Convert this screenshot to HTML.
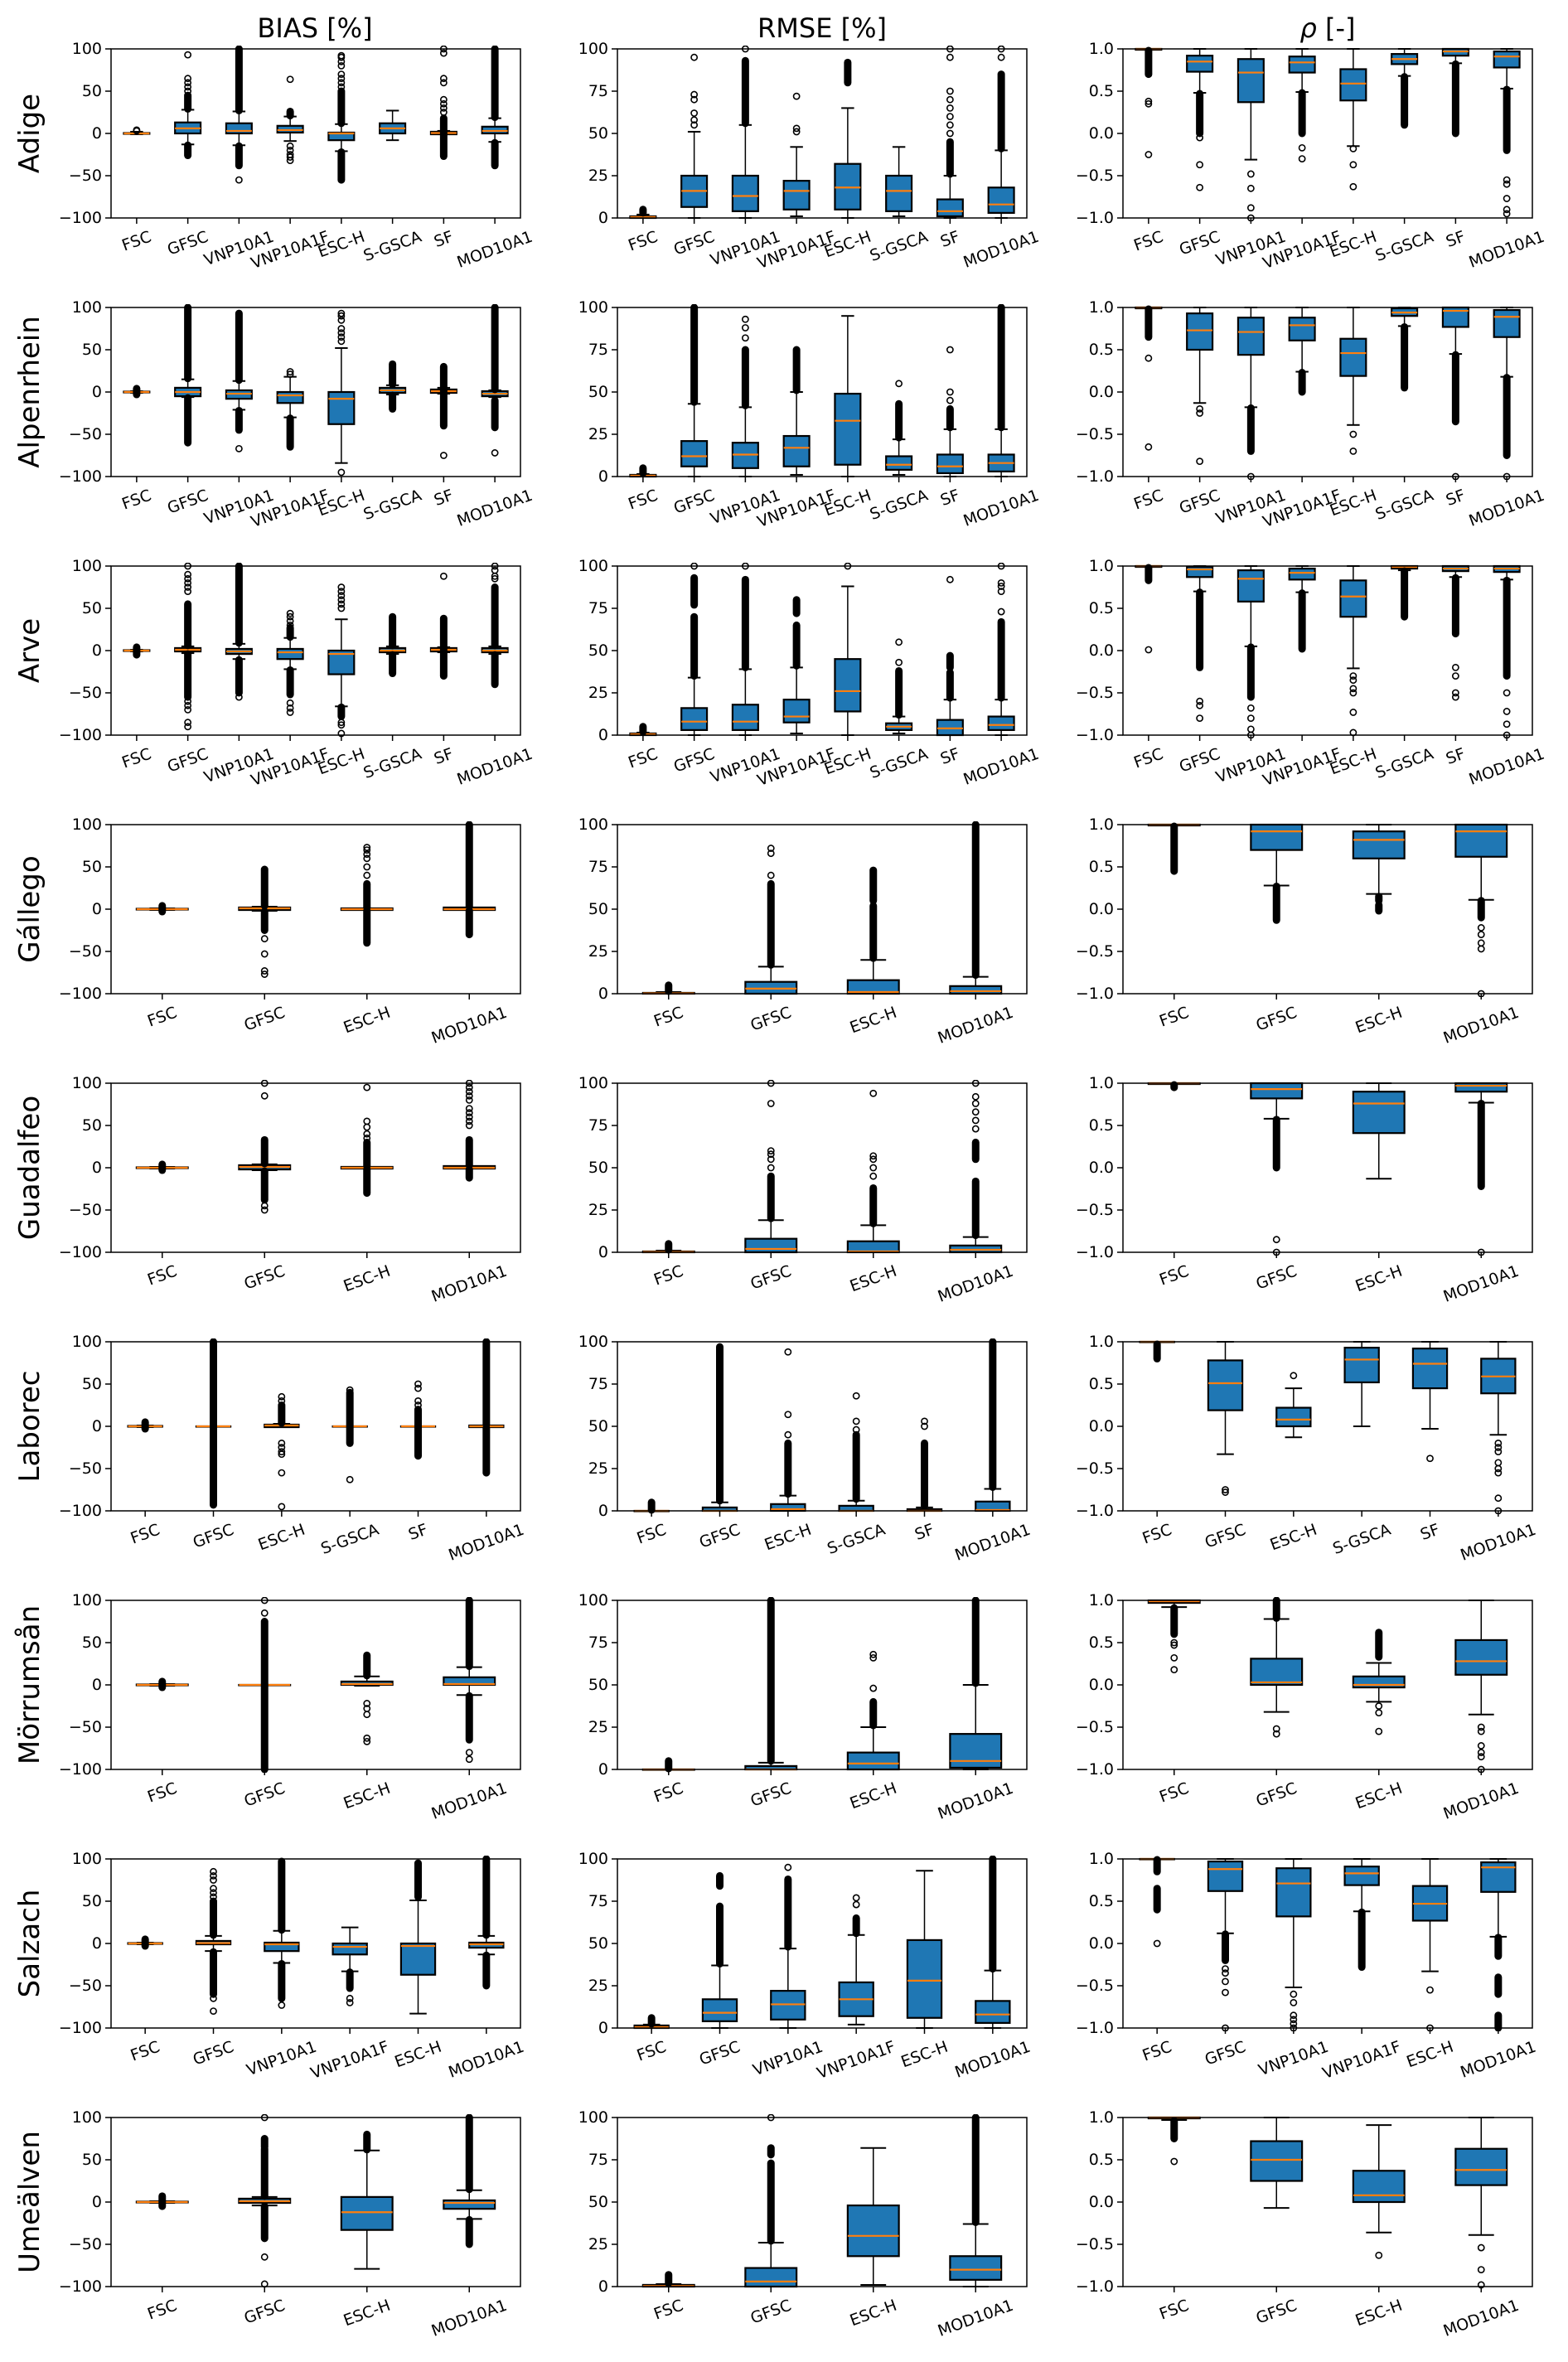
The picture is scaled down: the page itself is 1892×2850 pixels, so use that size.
<!DOCTYPE html>
<html><head><meta charset="utf-8">
<style>
html,body{margin:0;padding:0;background:#fff;}
svg text{font-family:"DejaVu Sans","Liberation Sans",sans-serif;fill:#000;}
</style></head>
<body>
<svg id="fig" width="1892" height="2845" viewBox="0 0 1892 2845" xmlns="http://www.w3.org/2000/svg">
<rect width="1892" height="2845" fill="#fff"/>
<text x="380" y="45" font-size="32" text-anchor="middle">BIAS [%]</text>
<text x="992" y="45" font-size="32" text-anchor="middle">RMSE [%]</text>
<text x="1602" y="45" font-size="32" text-anchor="middle"><tspan font-style="italic">ρ</tspan> [-]</text>
</svg>
<script>
// categories
const cats8 = ["FSC","GFSC","VNP10A1","VNP10A1F","ESC-H","S-GSCA","SF","MOD10A1"];
const cats4 = ["FSC","GFSC","ESC-H","MOD10A1"];
const catsLab = ["FSC","GFSC","ESC-H","S-GSCA","SF","MOD10A1"];
const catsSal = ["FSC","GFSC","VNP10A1","VNP10A1F","ESC-H","MOD10A1"];
const basins = ["Adige","Alpenrhein","Arve","Gállego","Guadalfeo","Laborec","Mörrumsån","Salzach","Umeälven"];
const biasTicks = [-100,-50,0,50,100];
const rmseTicks = [0,25,50,75,100];
const rhoTicks = [-1.0,-0.5,0.0,0.5,1.0];
const rhoTickLabels = ["−1.0","−0.5","0.0","0.5","1.0"];
const biasTickLabels = ["−100","−50","0","50","100"];
const rmseTickLabels = ["0","25","50","75","100"];

// stats per box: [whisker-low, q1, median, q3, whisker-high]; outliers: numbers or [from,to] dense runs
const adigeBias = [[-1,-0.5,0,0.5,2],[-13,0,6,13,28],[-14,0,3,12,26],[-9,1,4,9,20],[-21,-8,0,1,11],[-8,0,6,12,27],[-1,-1,0.5,2,3],[-10,0,3,8,18]];
const adigeBiasOut = [[3,4],[[29,45],50,55,60,65,93,[-14,-26]],[[27,100],[-15,-38],-55],[[21,26],64,-15,-20,-25,-28,-32],[[12,50],55,60,65,70,80,85,90,92,[-22,-55]],[],[[-27,18],25,30,35,40,60,65,95,100],[[19,100],[-11,-38]]];
const adigeRmse = [[0,0,0.5,1,2],[0,6.5,16,25,51],[0,4,13,25,55],[1,5,16,22,42],[0,5,18,32,65],[1,4,16,25,42],[0,1,4,11,25],[0,3,8,18,40]];
const adigeRmseOut = [[[3,5]],[55,58,62,70,73,95],[[56,93],100],[51,53,72],[[80,92]],[],[[26,45],50,55,60,65,70,75,95,100],[[41,85],95,100]];
const adigeRho = [[0.99,0.99,1,1,1],[0.48,0.73,0.85,0.92,1],[-0.31,0.37,0.72,0.88,1],[0.49,0.72,0.84,0.91,1],[-0.15,0.39,0.59,0.76,1],[0.68,0.82,0.88,0.94,1],[0.83,0.92,0.97,1,1],[0.53,0.78,0.91,0.97,1]];
const adigeRhoOut = [[[0.7,0.98],0.35,0.38,-0.25],[[0,0.47],-0.05,-0.37,-0.64],[-0.48,-0.65,-0.88,-1],[[0,0.48],-0.17,-0.3],[-0.18,-0.37,-0.63],[[0.1,0.67]],[[0,0.82]],[[-0.2,0.52],-0.55,-0.6,-0.77,-0.9,-0.95]];

const alpBias = [[-1,-0.5,0,0.5,1],[-6,-5,0,5,15],[-21,-8,-2,2,13],[-30,-13,-4,0,18],[-84,-38,-8,0,52],[-3,-1,2,5,8],[-2,-1,1,3,5],[-6,-5,-2,1,2]];
const alpBiasOut = [[[-3,4]],[[16,100],[-7,-60]],[[14,93],[-22,-45],-67],[21,24,[-31,-65]],[60,65,70,75,85,90,93,-95],[[9,33],[-4,-20]],[[-40,30],-75],[[3,100],[-10,-42],-72]];
const alpRmse = [[0,0,0.5,1,1.5],[0,6,12,21,43],[0,5,13,20,41],[1,6,17,24,50],[0,7,33,49,95],[1,4,7,12,22],[0,2,6,13,28],[0,3,8,13,28]];
const alpRmseOut = [[[2,5]],[[44,100]],[[42,75],82,88,93],[[51,75]],[],[[23,43],55],[[29,40],45,50,75],[[29,100]]];
const alpRho = [[0.99,0.99,1,1,1],[-0.13,0.5,0.73,0.93,1],[-0.18,0.44,0.71,0.88,1],[0.24,0.61,0.79,0.88,1],[-0.39,0.19,0.46,0.63,1],[0.78,0.9,0.94,0.99,1],[0.45,0.77,0.96,1,1],[0.18,0.65,0.89,0.97,1]];
const alpRhoOut = [[[0.65,0.98],0.4,-0.65],[-0.2,-0.25,-0.82],[[-0.7,-0.19],-1],[[0,0.23]],[-0.5,-0.7],[[0.05,0.77]],[[-0.35,0.44],-1],[[-0.75,0.17],-1]];

const arveBias = [[-1,-0.5,0,0.5,1],[-3,-1,1,3,5],[-10,-4,-1,2,8],[-22,-10,-2,2,15],[-66,-28,-4,0,37],[-4,-2,0,3,5],[-2,-1,1,3,4],[-4,-2,0,3,5]];
const arveBiasOut = [[[-5,4]],[[6,55],70,75,80,85,90,100,[-4,-55],-60,-65,-70,-85,-90],[[9,100],[-11,-50],-55],[[16,27],30,35,40,44,[-23,-52],-62,-68,-73],[50,55,60,65,70,75,[-67,-78],-85,-88,-98],[[6,40],[-5,-27]],[[-30,38],88],[[6,75],85,88,95,100,[-5,-40]]];
const arveRmse = [[0,0,0.5,1,1.5],[0,3,8,16,34],[0,3,8,18,39],[1,7.5,11,21,40],[0,14,26,45,88],[1,3,5,7,11],[0,0,4,9,21],[0,3,6,11,21]];
const arveRmseOut = [[[2,5]],[[35,70],[77,93],100],[[40,92],100],[[41,65],[72,80]],[100],[[12,38],43,55],[[22,37],[40,47],92],[[22,67],73,85,88,90,100]];
const arveRho = [[0.99,0.99,1,1,1],[0.7,0.87,0.96,0.99,1],[0.05,0.58,0.85,0.95,1],[0.69,0.84,0.92,0.97,1],[-0.21,0.4,0.64,0.83,1],[0.95,0.97,0.99,1,1],[0.87,0.94,0.97,1,1],[0.84,0.93,0.97,1,1]];
const arveRhoOut = [[[0.83,0.98],0.01],[[-0.2,0.69],-0.6,-0.65,-0.8],[[-0.55,0.04],-0.68,-0.8,-0.93,-1],[[0.02,0.68]],[-0.3,-0.35,-0.45,-0.5,-0.73,-0.97],[[0.4,0.94]],[[0.2,0.86],-0.2,-0.3,-0.5,-0.55],[[-0.3,0.83],-0.5,-0.72,-0.87,-1]];

const galBias = [[-1,-0.5,0,0.5,1],[-2,-1,1,2,3],[-1,-1,0,1,1],[-1,-1,0,2,2]];
const galBiasOut = [[[-3,4]],[[4,47],[-3,-25],-35,-53,-73,-77],[[2,30],40,50,60,65,70,73,[-2,-40]],[[3,100],[-2,-30]]];
const galRmse = [[0,0,0.2,0.5,1],[0,0,3,7,16],[0,0,1,8,20],[0,0,1.5,4.5,10]];
const galRmseOut = [[[1.5,5]],[[17,65],70,83,86],[[21,52],[55,73]],[[11,100]]];
const galRho = [[0.99,0.99,1,1,1],[0.28,0.7,0.92,1,1],[0.18,0.6,0.82,0.92,1],[0.11,0.62,0.92,1,1]];
const galRhoOut = [[[0.45,0.98]],[[-0.13,0.27]],[[0.1,0.15],[-0.02,0.05]],[[-0.1,0.1],-0.22,-0.3,-0.4,-0.47,-1]];

const guaBias = [[-1,-0.5,0,0.5,1],[-3,-2,1,3,4],[-1,-1,0,1,1],[-1,-1,0,2,2]];
const guaBiasOut = [[[-3,4]],[[5,33],85,100,[-4,-38],-45,-50],[[2,30],35,40,48,55,95,[-2,-30]],[[3,33],50,55,60,65,70,80,85,90,95,100,[-2,-12]]];
const guaRmse = [[0,0,0.2,0.5,1],[0,0,2,8,19],[0,0,0.5,6.5,16],[0,0,1.5,4,9]];
const guaRmseOut = [[[1.5,5]],[[20,45],50,55,58,60,88,100],[[17,38],45,50,55,57,94],[[10,42],[55,65],73,78,83,88,92,100]];
const guaRho = [[0.99,0.99,1,1,1],[0.58,0.82,0.93,1,1],[-0.13,0.41,0.76,0.9,1],[0.77,0.9,0.97,1,1]];
const guaRhoOut = [[[0.95,0.98]],[[0,0.57],-0.85,-1],[],[[-0.22,0.76],-1]];

const labBias = [[-1,-0.5,0,0.5,1],[0,0,0,0,0],[-1,-1,1,2,3],[0,0,0,0,0],[0,0,0,0,0],[-1,-1,0,1,1]];
const labBiasOut = [[[-3,5]],[[-93,100]],[[4,25],30,35,-20,-25,-30,-33,-55,-95],[[-20,40],43,-63],[[-35,20],25,30,45,50],[[2,100],[-2,-55]]];
const labRmse = [[0,0,0,0,0],[0,0,0,2,5],[0,0,1,4,9],[0,0,0,3,6],[0,0,0,1,2],[0,0,0.5,5.5,13]];
const labRmseOut = [[[0.5,5]],[[6,97]],[[10,40],45,57,94],[[7,45],48,53,68],[[3,40],50,53],[[14,100]]];
const labRho = [[1,1,1,1,1],[-0.33,0.19,0.51,0.78,1],[-0.13,0,0.08,0.22,0.45],[0,0.52,0.79,0.93,1],[-0.03,0.45,0.74,0.92,1],[-0.1,0.39,0.59,0.8,1]];
const labRhoOut = [[[0.8,0.97]],[-0.75,-0.78],[0.6],[],[-0.38],[-0.2,-0.25,-0.3,-0.43,-0.5,-0.55,-0.85,-1]];

const morBias = [[-1,-0.5,0,0.5,1],[0,0,0,0,0],[-1,0,1,4,10],[-12,0,1,9,21]];
const morBiasOut = [[[-3,4]],[[-100,75],85,100],[[11,35],-22,-28,-35,-63,-67],[[22,100],[-13,-65],-80,-88]];
const morRmse = [[0,0,0,0,0],[0,0,0,2,4],[0,0,3.5,10,25],[0,1,5,21,50]];
const morRmseOut = [[[0.5,5]],[[5,100]],[[26,40],48,66,68],[[51,100]]];
const morRho = [[0.92,0.97,0.99,1,1],[-0.32,0,0.03,0.31,0.78],[-0.2,-0.03,0,0.1,0.26],[-0.35,0.12,0.28,0.53,1]];
const morRhoOut = [[[0.6,0.91],0.5,0.47,0.32,0.18],[[0.79,1],-0.52,-0.58],[[0.33,0.62],-0.25,-0.33,-0.55],[-0.5,-0.55,-0.72,-0.8,-0.85,-1]];

const salBias = [[-1,-0.5,0,0.5,1],[-9,-1,0.5,3,9],[-23,-9,-1,1,15],[-33,-13,-4,0,19],[-83,-37,-3,0,51],[-13,-5,-1,1,9]];
const salBiasOut = [[[-3,5]],[[10,50],55,60,65,75,80,85,[-10,-60],-65,-80],[[16,97],[-24,-65],-73],[[-34,-53],-65,-70],[[55,95]],[[10,100],[-14,-50]]];
const salRmse = [[0,0,0.5,1.5,2],[0,4,9,17,37],[0,5,14,22,47],[2,7,17,27,55],[0,6,28,52,93],[0,3,8,16,34]];
const salRmseOut = [[[2.5,6]],[[38,72],[84,90]],[[48,88],95],[[56,65],73,77],[],[[35,100]]];
const salRho = [[1,1,1,1,1],[0.12,0.62,0.88,0.97,1],[-0.52,0.32,0.71,0.89,1],[0.38,0.69,0.83,0.91,1],[-0.33,0.27,0.47,0.68,1],[0.08,0.61,0.9,0.96,1]];
const salRhoOut = [[[0.85,0.99],[0.4,0.65],0],[[-0.2,0.11],-0.3,-0.35,-0.45,-0.58,-1],[-0.6,-0.7,-0.85,-0.9,-0.95,-1],[[-0.28,0.37]],[-0.55,-1],[[-0.15,0.07],[-0.6,-0.4],[-1,-0.85]]];

const umeBias = [[-1,-0.5,0,0.5,1],[-4,-1,1,4,6],[-79,-33,-12,6,61],[-20,-8,-1,2,14]];
const umeBiasOut = [[[-5,7]],[[7,63],[65,75],100,[-5,-43],-65,-97],[[62,80]],[[15,100],[-21,-50]]];
const umeRmse = [[0,0,0.3,1,1.5],[0,0,3,11,26],[1,18,30,48,82],[0,4,10,18,37]];
const umeRmseOut = [[[2,7]],[[27,73],[78,82],100],[],[[38,100]]];
const umeRho = [[0.97,0.99,1,1,1],[-0.07,0.25,0.5,0.72,1],[-0.36,0,0.08,0.37,0.91],[-0.39,0.2,0.38,0.63,1]];
const umeRhoOut = [[[0.75,0.96],0.48],[],[-0.63],[-0.54,-0.8,-0.98]];

const NS = "http://www.w3.org/2000/svg";
const svg = document.getElementById("fig");
const colX = [134, 745, 1355];
const AW = 494, AH = 204, TOP0 = 59, PITCH = 312;

const rowCats = [cats8,cats8,cats8,cats4,cats4,catsLab,cats4,catsSal,cats4];
const rowPanels = [
 [[adigeBias,adigeBiasOut],[adigeRmse,adigeRmseOut],[adigeRho,adigeRhoOut]],
 [[alpBias,alpBiasOut],[alpRmse,alpRmseOut],[alpRho,alpRhoOut]],
 [[arveBias,arveBiasOut],[arveRmse,arveRmseOut],[arveRho,arveRhoOut]],
 [[galBias,galBiasOut],[galRmse,galRmseOut],[galRho,galRhoOut]],
 [[guaBias,guaBiasOut],[guaRmse,guaRmseOut],[guaRho,guaRhoOut]],
 [[labBias,labBiasOut],[labRmse,labRmseOut],[labRho,labRhoOut]],
 [[morBias,morBiasOut],[morRmse,morRmseOut],[morRho,morRhoOut]],
 [[salBias,salBiasOut],[salRmse,salRmseOut],[salRho,salRhoOut]],
 [[umeBias,umeBiasOut],[umeRmse,umeRmseOut],[umeRho,umeRhoOut]]
];
const metricNames = ["bias","rmse","rho"];
const domains = [[-100,100],[0,100],[-1,1]];
const ticksByMetric = [biasTicks, rmseTicks, rhoTicks];
const tickLabelsByMetric = [biasTickLabels, rmseTickLabels, rhoTickLabels];

function mk(tag, attrs, parent){
  const e = document.createElementNS(NS, tag);
  for (const k in attrs) e.setAttribute(k, attrs[k]);
  (parent||svg).appendChild(e);
  return e;
}
function slug(s){return s.toLowerCase().replace(/[^a-z0-9]+/g,'-');}

for (let r=0; r<9; r++){
  const top = TOP0 + PITCH*r;
  const lab = mk("text",{x:36,y:top+AH/2,"font-size":34,"text-anchor":"middle","dominant-baseline":"central",transform:`rotate(-90 36 ${top+AH/2})`});
  lab.textContent = basins[r];
  
  
  const cats = rowCats[r];
  for (let c=0; c<3; c++){
    const x0 = colX[c];
    const [d0,d1] = domains[c];
    const ys = v => top + AH - (v-d0)/(d1-d0)*AH;
    const n = cats.length;
    const xs = i => x0 + (i+0.5)/n*AW;
    const g = mk("g",{});
    
    
    const cp = mk("clipPath",{id:`cp${r}_${c}`}, g);
    mk("rect",{x:x0,y:top-4,width:AW,height:AH+8},cp);
    // y ticks
    ticksByMetric[c].forEach((t,k)=>{
      const y = ys(t);
      mk("line",{x1:x0-7,x2:x0,y1:y,y2:y,stroke:"#000","stroke-width":1.5},g);
      const tl = mk("text",{x:x0-11,y:y,"font-size":19,"text-anchor":"end","dominant-baseline":"central"},g);
      tl.textContent = tickLabelsByMetric[c][k];
      
      
    });
    const [stats, outs] = rowPanels[r][c];
    const bw = 0.5*AW/n;
    const marks = mk("g",{"clip-path":`url(#cp${r}_${c})`},g);
    for (let i=0;i<n;i++){
      const cx = xs(i);
      const [lo,q1,md,q3,hi] = stats[i];
      const bg = mk("g",{},marks);
      
      
      mk("line",{x1:cx,x2:cx,y1:ys(lo),y2:ys(q1),stroke:"#000","stroke-width":1.5},bg);
      mk("line",{x1:cx,x2:cx,y1:ys(q3),y2:ys(hi),stroke:"#000","stroke-width":1.5},bg);
      mk("line",{x1:cx-bw/4,x2:cx+bw/4,y1:ys(lo),y2:ys(lo),stroke:"#000","stroke-width":2},bg);
      mk("line",{x1:cx-bw/4,x2:cx+bw/4,y1:ys(hi),y2:ys(hi),stroke:"#000","stroke-width":2},bg);
      mk("rect",{x:cx-bw/2,y:ys(q3),width:bw,height:Math.max(0.5,ys(q1)-ys(q3)),fill:"#1f77b4",stroke:"#000","stroke-width":2.2},bg);
      mk("line",{x1:cx-bw/2,x2:cx+bw/2,y1:ys(md),y2:ys(md),stroke:"#ff7f0e","stroke-width":2.2},bg);
      outs[i].forEach(o=>{
        if (Array.isArray(o)){
          mk("line",{x1:cx,x2:cx,y1:ys(o[0]),y2:ys(o[1]),stroke:"#000","stroke-width":9,"stroke-linecap":"round"},bg);
        } else {
          mk("circle",{cx:cx,cy:ys(o),r:3.6,fill:"none",stroke:"#000","stroke-width":1.6},bg);
        }
      });
    }
    // axes frame
    const fr = mk("rect",{x:x0,y:top,width:AW,height:AH,fill:"none",stroke:"#000","stroke-width":1.5},g);
    // x ticks & labels
    for (let i=0;i<n;i++){
      const cx = xs(i);
      mk("line",{x1:cx,x2:cx,y1:top+AH,y2:top+AH+7,stroke:"#000","stroke-width":1.5},g);
      const t = mk("text",{x:cx,y:0,"font-size":19,"text-anchor":"middle","dominant-baseline":"central"},g);
      t.textContent = cats[i];
      
      
      const L = t.getComputedTextLength ? t.getComputedTextLength() : cats[i].length*11;
      const bh = L*Math.sin(20*Math.PI/180) + 19*Math.cos(20*Math.PI/180);
      const cy = top + AH + 13 + bh/2;
      t.setAttribute("y", cy);
      t.setAttribute("transform", `rotate(-20 ${cx} ${cy})`);
    }
  }
}
</script>
</body></html>
